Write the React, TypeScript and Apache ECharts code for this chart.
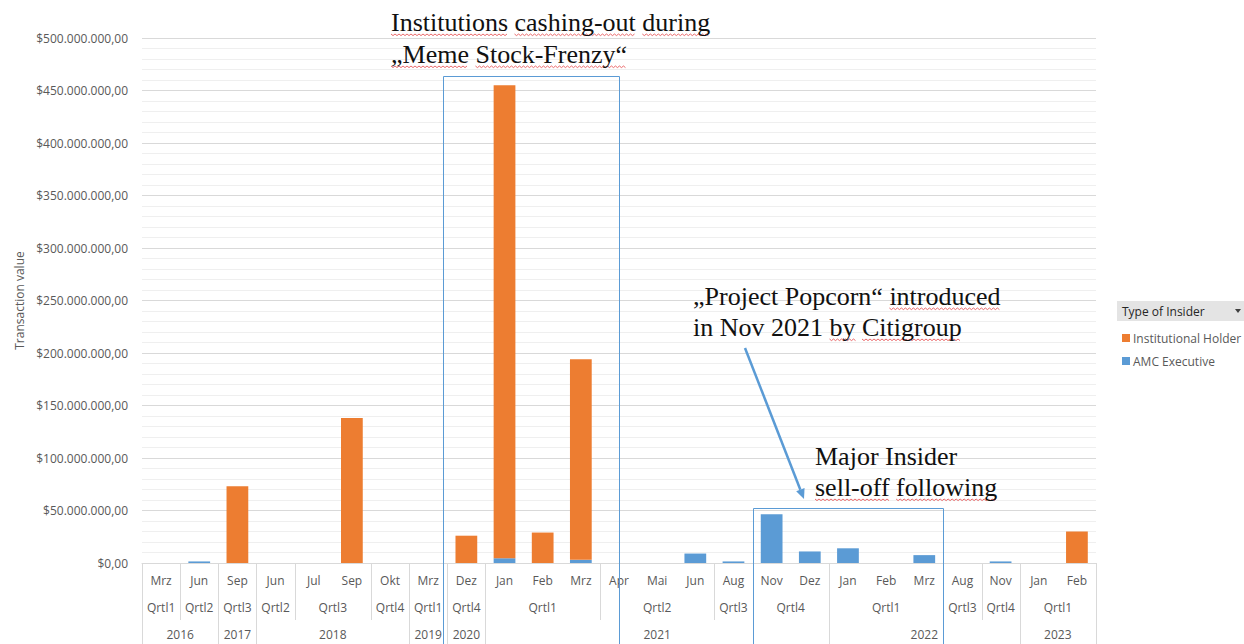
import React, { useEffect, useRef } from "react";
import * as echarts from "echarts";

const months = ["Mrz", "Jun", "Sep", "Jun", "Jul", "Sep", "Okt", "Mrz", "Dez", "Jan", "Feb", "Mrz", "Apr", "Mai", "Jun", "Aug", "Nov", "Dez", "Jan", "Feb", "Mrz", "Aug", "Nov", "Jan", "Feb"];
const quarters = ["Qrtl1", "Qrtl2", "Qrtl3", "Qrtl2", "Qrtl3", "Qrtl3", "Qrtl4", "Qrtl1", "Qrtl4", "Qrtl1", "Qrtl1", "Qrtl1", "Qrtl2", "Qrtl2", "Qrtl2", "Qrtl3", "Qrtl4", "Qrtl4", "Qrtl1", "Qrtl1", "Qrtl1", "Qrtl3", "Qrtl4", "Qrtl1", "Qrtl1"];
const years = ["2016", "2016", "2017", "2018", "2018", "2018", "2018", "2019", "2020", "2021", "2021", "2021", "2021", "2021", "2021", "2021", "2021", "2021", "2022", "2022", "2022", "2022", "2022", "2023", "2023"];

// values in USD
const amcExecutive = [0, 1.5e6, 0, 0, 0, 0, 0, 0, 0, 4.5e6, 0, 3e6, 0, 0, 9e6, 1.5e6, 46.5e6, 11e6, 14e6, 0, 7.5e6, 0, 1.5e6, 0, 0];
const institutionalHolder = [0, 0, 73e6, 0, 0, 138e6, 0, 0, 26e6, 450.5e6, 29e6, 191e6, 0, 0, 0, 0, 0, 0, 0, 0, 0, 0, 0, 0, 30e6];

const seriesNames = ["Institutional Holder", "AMC Executive"];
const yMax = 500e6;
const yInterval = 50e6;

const ORANGE = "#ed7d31";
const BLUE = "#5b9bd5";
const LABEL = "#595959";
const AXIS_FONT = "Open Sans";
const SERIF = "Liberation Serif";
const NOTE_SIZE = 26;

function fmtMoney(v: number): string {
  const s = Math.round(v).toString().replace(/\B(?=(\d{3})+(?!\d))/g, ".");
  return "$" + s + ",00";
}

function groups(keys: string[]) {
  const out: any[] = [];
  keys.forEach((k, i) => {
    const last = out[out.length - 1];
    if (last && last.key === k) last.end = i;
    else out.push({ start: i, end: i, label: k.split("|")[0], key: k });
  });
  return out;
}

export default function App() {
  const ref = useRef<HTMLDivElement>(null);
  useEffect(() => {
    if (!ref.current) return;
    const chart = echarts.init(ref.current, undefined, { renderer: "svg" });
    chart.setOption({
      animation: false,
      backgroundColor: "#ffffff",
      grid: { left: 142, right: 148, top: 38, bottom: 81, containLabel: false },
      legend: {
        orient: "vertical",
        left: 1117,
        top: 327,
        itemWidth: 8,
        itemHeight: 8,
        itemGap: 11,
        icon: "rect",
        data: seriesNames,
        textStyle: { color: LABEL, fontSize: 12, fontFamily: AXIS_FONT, padding: [0, 0, 0, -2] },
        selectedMode: false,
      },
      xAxis: {
        type: "category",
        data: months,
        axisLine: { show: true, lineStyle: { color: "#d9d9d9", width: 1 } },
        axisTick: { show: false },
        axisLabel: { interval: 0, color: LABEL, fontSize: 12, fontFamily: AXIS_FONT, margin: 11 },
        splitLine: { show: false },
      },
      yAxis: {
        type: "value",
        min: 0,
        max: yMax,
        interval: yInterval,
        name: "Transaction value",
        nameLocation: "middle",
        nameGap: 117,
        nameTextStyle: { color: LABEL, fontSize: 12, fontFamily: AXIS_FONT },
        axisLine: { show: false },
        axisTick: { show: false },
        axisLabel: { color: LABEL, fontSize: 12, fontFamily: AXIS_FONT, margin: 14, formatter: fmtMoney },
        splitLine: { show: true, lineStyle: { color: "#d9d9d9", width: 1 } },
        minorTick: { show: false, splitNumber: 5 },
        minorSplitLine: { show: true, lineStyle: { color: "#efefef", width: 1 } },
      },
      series: [
        {
          name: "AMC Executive",
          type: "bar",
          stack: "total",
          data: amcExecutive,
          barCategoryGap: "43%",
          itemStyle: { color: BLUE },
        },
        {
          name: "Institutional Holder",
          type: "bar",
          stack: "total",
          data: institutionalHolder,
          barCategoryGap: "43%",
          itemStyle: { color: ORANGE },
        },
      ],
    });

    const cx = (i: number) => chart.convertToPixel({ xAxisIndex: 0 }, i) as number;
    const py = (v: number) => chart.convertToPixel({ yAxisIndex: 0 }, v) as number;
    const bw = cx(1) - cx(0);
    const y0 = py(0);
    const n = months.length;
    const rowQ = y0 + 57;
    const rowY = y0 + 90;

    const elements: any[] = [];
    // separator lines
    for (let b = 0; b <= n; b++) {
      const x = Math.round(cx(0) - bw / 2 + b * bw) + 0.5;
      let bottom = -1;
      if (b === 0 || b === n || years[b] !== years[b - 1]) bottom = rowY;
      else if (quarters[b] !== quarters[b - 1]) bottom = rowQ;
      if (bottom > 0) {
        elements.push({
          type: "line",
          shape: { x1: x, y1: y0, x2: x, y2: bottom },
          style: { stroke: "#d9d9d9", lineWidth: 1 },
          silent: true,
        });
      }
    }
    groups(quarters.map((q, i) => q + "|" + years[i])).forEach((g) => {
      elements.push({
        type: "text",
        x: (cx(g.start) + cx(g.end)) / 2,
        y: y0 + 44,
        style: { text: g.label, fill: LABEL, font: `12px "${AXIS_FONT}"`, align: "center", verticalAlign: "middle" },
        silent: true,
      });
    });
    groups(years).forEach((g) => {
      elements.push({
        type: "text",
        x: (cx(g.start) + cx(g.end)) / 2,
        y: y0 + 71,
        style: { text: g.label, fill: LABEL, font: `12px "${AXIS_FONT}"`, align: "center", verticalAlign: "middle" },
        silent: true,
      });
    });

    // annotation boxes
    const b1l = Math.round(cx(8) - bw / 2 - 4) + 0.5;
    const b1r = Math.round(cx(12)) + 0.5;
    const b1t = Math.round(py(464e6)) + 0.5;
    elements.push({
      type: "rect",
      shape: { x: b1l, y: b1t, width: b1r - b1l, height: 700 - b1t },
      style: { fill: "none", stroke: BLUE, lineWidth: 1 },
      silent: true,
      z: 10,
    });
    const b2l = Math.round(cx(16) - bw / 2) + 0.5;
    const b2r = Math.round(cx(20) + bw / 2) + 0.5;
    const b2t = Math.round(py(52.5e6)) + 0.5;
    elements.push({
      type: "rect",
      shape: { x: b2l, y: b2t, width: b2r - b2l, height: 700 - b2t },
      style: { fill: "none", stroke: BLUE, lineWidth: 1 },
      silent: true,
      z: 10,
    });

    // arrow
    const ax1 = 745, ay1 = 348, ax2 = 804, ay2 = 499;
    const len = Math.hypot(ax2 - ax1, ay2 - ay1);
    const ux = (ax2 - ax1) / len, uy = (ay2 - ay1) / len;
    const hl = 10, hw = 4.5;
    const bx = ax2 - ux * hl, by = ay2 - uy * hl;
    elements.push({
      type: "line",
      shape: { x1: ax1, y1: ay1, x2: bx, y2: by },
      style: { stroke: BLUE, lineWidth: 2.5 },
      silent: true,
      z: 10,
    });
    elements.push({
      type: "polygon",
      shape: { points: [[ax2, ay2], [bx - uy * hw, by + ux * hw], [bx + uy * hw, by - ux * hw]] },
      style: { fill: BLUE },
      silent: true,
      z: 10,
    });

    // annotation texts with spell-check style wavy underlines
    const noteFont = `${NOTE_SIZE}px "${SERIF}"`;
    const ctx = document.createElement("canvas").getContext("2d") as CanvasRenderingContext2D;
    ctx.font = noteFont;
    const notes: [string, number, number, string[]][] = [
      ["Institutions cashing-out during", 391, 22, ["Institutions", "cashing-out", "during"]],
      ["\u201EMeme Stock-Frenzy\u201C", 391, 54, ["\u201EMeme", "Stock-Frenzy\u201C"]],
      ["\u201EProject Popcorn\u201C introduced", 693, 296, ["introduced"]],
      ["in Nov 2021 by Citigroup", 693, 327, ["by", "Citigroup"]],
      ["Major Insider", 815, 456, []],
      ["sell-off following", 815, 487, ["sell-off", "following"]],
    ];
    notes.forEach(([t, x, y, marked]) => {
      elements.push({
        type: "text",
        x,
        y,
        style: { text: t, fill: "#111111", font: noteFont, align: "left", verticalAlign: "middle" },
        silent: true,
        z: 20,
      });
      marked.forEach((w) => {
        const idx = t.indexOf(w);
        if (idx < 0) return;
        const sx = x + ctx.measureText(t.slice(0, idx)).width;
        const ex = sx + ctx.measureText(w).width;
        const pts: number[][] = [];
        let k = 0;
        for (let px = sx; px <= ex; px += 2, k++) pts.push([px, y + 12 + (k % 2 === 0 ? 0 : 1.6)]);
        elements.push({
          type: "polyline",
          shape: { points: pts },
          style: { stroke: "#e8595b", lineWidth: 0.9, fill: null },
          silent: true,
          z: 19,
        });
      });
    });

    // legend header
    elements.push({
      type: "rect",
      shape: { x: 1117, y: 301, width: 127, height: 20 },
      style: { fill: "#e4e4e4" },
      silent: true,
    });
    elements.push({
      type: "text",
      x: 1122,
      y: 311,
      style: { text: "Type of Insider", fill: "#262626", font: `12px "${AXIS_FONT}"`, align: "left", verticalAlign: "middle" },
      silent: true,
    });
    elements.push({
      type: "polygon",
      shape: { points: [[1235, 309], [1241, 309], [1238, 313]] },
      style: { fill: "#404040" },
      silent: true,
    });

    chart.setOption({ graphic: { elements } });
    return () => chart.dispose();
  }, []);
  return <div ref={ref} style={{ position: "absolute", left: 0, top: 0, width: 1244, height: 644 }} />;
}
